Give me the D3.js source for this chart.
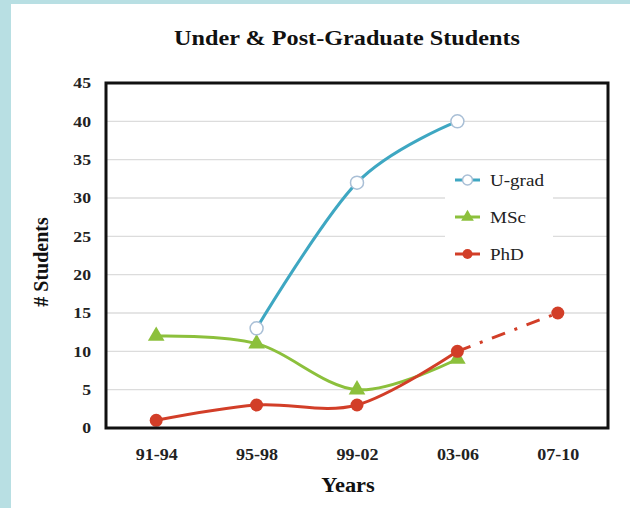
<!DOCTYPE html>
<html>
<head>
<meta charset="utf-8">
<script src="https://d3js.org/d3.v7.min.js"></script>
<style>
  body { margin: 0; background: #b8dfe3; }
  #chart { position: absolute; left: 11px; top: 4px; }
</style>
</head>
<body>
<div id="chart"></div>
<script>
// chart values
var years = ["91-94", "95-98", "99-02", "03-06", "07-10"];
var ugrad = [null, 13, 32, 40, null];
var msc = [12, 11, 5, 9, null];
var phd = [1, 3, 3, 10, null];
var phdProjected = [null, null, null, 10, 15];
var yTicks = [0, 5, 10, 15, 20, 25, 30, 35, 40, 45];

var W = 619, H = 504;
var svg = d3.select("#chart").append("svg")
    .attr("width", W).attr("height", H)
    .style("background", "#fff");

// plot frame in svg coords (chart offset 11,4)
var pL = 95, pR = 597, pT = 79, pB = 424;

var x = d3.scalePoint().domain(years).range([pL, pR]).padding(0.5);
var y = d3.scaleLinear().domain([0, 45]).range([pB, pT]);

var serif = "'Liberation Serif', 'Times New Roman', serif";
var blue = "#3ea7c2", green = "#8cc03c", red = "#d23e28";

// the source picture is a bit wide, so widen text a little
function stretch(sel, k) {
    sel.each(function () {
        var w = this.getComputedTextLength();
        d3.select(this).attr("textLength", w * k).attr("lengthAdjust", "spacingAndGlyphs");
    });
}

// gridlines
svg.append("g").selectAll("line")
    .data(yTicks.filter(function (d) { return d > 0 && d < 45; }))
    .enter().append("line")
    .attr("x1", pL).attr("x2", pR)
    .attr("y1", function (d) { return y(d); })
    .attr("y2", function (d) { return y(d); })
    .attr("stroke", "#dcdcdc").attr("stroke-width", 1.3);

// y axis labels
var yAxis = d3.axisLeft(y).tickValues(yTicks).tickSize(0).tickPadding(15);
var gy = svg.append("g").attr("transform", "translate(" + pL + ",0)").call(yAxis);
gy.select(".domain").remove();
gy.selectAll("text").style("font", "bold 15px " + serif).attr("fill", "#222").call(stretch, 1.18);

// x axis labels
var xAxis = d3.axisBottom(x).tickSize(0).tickPadding(20);
var gx = svg.append("g").attr("transform", "translate(0," + pB + ")").call(xAxis);
gx.select(".domain").remove();
gx.selectAll("text").style("font", "bold 17px " + serif).attr("fill", "#222").call(stretch, 1.06);

// legend background covers gridlines
svg.append("rect")
    .attr("x", 434).attr("y", 158).attr("width", 108).attr("height", 112)
    .attr("fill", "#fff");

var line = d3.line()
    .defined(function (d) { return d != null; })
    .x(function (d, i) { return x(years[i]); })
    .y(function (d) { return y(d); })
    .curve(d3.curveCatmullRom.alpha(0));

function defIdx(arr) {
    return arr.map(function (d, i) { return [i, d]; }).filter(function (p) { return p[1] != null; });
}

// lines
svg.append("path").datum(ugrad).attr("d", line)
    .attr("fill", "none").attr("stroke", blue).attr("stroke-width", 3);
svg.append("path").datum(msc).attr("d", line)
    .attr("fill", "none").attr("stroke", green).attr("stroke-width", 3);
svg.append("path").datum(phd).attr("d", line)
    .attr("fill", "none").attr("stroke", red).attr("stroke-width", 3);
svg.append("path").datum(phdProjected)
    .attr("d", d3.line()
        .defined(function (d) { return d != null; })
        .x(function (d, i) { return x(years[i]); })
        .y(function (d) { return y(d); }))
    .attr("fill", "none").attr("stroke", red).attr("stroke-width", 3)
    .attr("stroke-dasharray", "14,10,3,10");

var tri = d3.symbol().type(d3.symbolTriangle).size(120);

// markers
svg.append("g").selectAll("path").data(defIdx(msc)).enter().append("path")
    .attr("d", tri)
    .attr("transform", function (p) { return "translate(" + x(years[p[0]]) + "," + y(p[1]) + ")"; })
    .attr("fill", green);
svg.append("g").selectAll("circle").data(defIdx(ugrad)).enter().append("circle")
    .attr("cx", function (p) { return x(years[p[0]]); })
    .attr("cy", function (p) { return y(p[1]); })
    .attr("r", 6.5).attr("fill", "#fff").attr("stroke", "#a9bfd6").attr("stroke-width", 1.5);
svg.append("g").selectAll("circle").data(defIdx(phd).concat([[4, phdProjected[4]]])).enter().append("circle")
    .attr("cx", function (p) { return x(years[p[0]]); })
    .attr("cy", function (p) { return y(p[1]); })
    .attr("r", 6.5).attr("fill", red);

// frame
svg.append("rect")
    .attr("x", pL).attr("y", pT)
    .attr("width", pR - pL).attr("height", pB - pT)
    .attr("fill", "none").attr("stroke", "#111").attr("stroke-width", 3);

// legend
var legend = [
    { name: "U-grad", color: blue, mark: "open" },
    { name: "MSc", color: green, mark: "tri" },
    { name: "PhD", color: red, mark: "dot" }
];
var lg = svg.append("g").selectAll("g").data(legend).enter().append("g")
    .attr("transform", function (d, i) { return "translate(444," + (176 + i * 37) + ")"; });
lg.append("line").attr("x1", 0).attr("x2", 25)
    .attr("stroke", function (d) { return d.color; }).attr("stroke-width", 3);
lg.each(function (d) {
    var g = d3.select(this);
    if (d.mark === "open") {
        g.append("circle").attr("cx", 12.5).attr("r", 5).attr("fill", "#fff")
            .attr("stroke", "#a9bfd6").attr("stroke-width", 1.5);
    } else if (d.mark === "tri") {
        g.append("path").attr("d", d3.symbol().type(d3.symbolTriangle).size(70))
            .attr("transform", "translate(12.5,0)").attr("fill", d.color);
    } else {
        g.append("circle").attr("cx", 12.5).attr("r", 5).attr("fill", d.color);
    }
});
lg.append("text").attr("x", 35).attr("dy", "0.35em")
    .style("font", "17px " + serif).attr("fill", "#222")
    .text(function (d) { return d.name; })
    .call(stretch, 1.12);

// title
svg.append("text").attr("x", 336).attr("y", 41).attr("text-anchor", "middle")
    .style("font", "bold 22px " + serif).attr("fill", "#111")
    .text("Under & Post-Graduate Students")
    .call(stretch, 1.1);

// axis titles
svg.append("text").attr("x", 337).attr("y", 488).attr("text-anchor", "middle")
    .style("font", "bold 20px " + serif).attr("fill", "#111")
    .text("Years")
    .call(stretch, 1.12);
svg.append("text")
    .attr("transform", "translate(37,258) rotate(-90)")
    .attr("text-anchor", "middle")
    .style("font", "bold 20px " + serif).attr("fill", "#111")
    .text("# Students");
</script>
</body>
</html>
